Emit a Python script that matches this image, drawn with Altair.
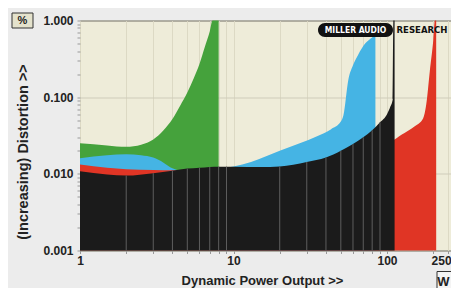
import altair as alt
import pandas as pd

# ---- data (power in W, distortion in %) ----
green_w = [1, 1.5, 2, 2.5, 3, 3.5, 4, 4.5, 5, 5.5, 6, 6.5, 7, 7.3, 8]
green_d = [0.025, 0.0235, 0.0225, 0.024, 0.028, 0.037, 0.052, 0.078, 0.115, 0.175, 0.27, 0.45, 0.72, 1.0, 1.0]

blue_w = [1, 1.5, 2, 2.5, 3, 3.5, 4, 4.5, 5, 7, 10, 13, 16, 20, 27, 35, 43, 50, 52, 56, 60, 65, 72, 80, 84]
blue_d = [0.016, 0.0175, 0.018, 0.0175, 0.0163, 0.014, 0.0118, 0.011, 0.0112, 0.0115, 0.0125, 0.0143, 0.0167, 0.02,
          0.025, 0.031, 0.038, 0.048, 0.058, 0.17, 0.26, 0.36, 0.5, 0.6, 0.65]

red_w = [1, 1.5, 2, 3, 4, 5, 10, 20, 50, 100, 112, 120, 130, 150, 172, 180, 190, 200, 205, 209]
red_d = [0.0132, 0.012, 0.0115, 0.0112, 0.0111, 0.0109, 0.011, 0.0112, 0.016, 0.025, 0.028, 0.031, 0.034, 0.041,
         0.053, 0.08, 0.22, 0.55, 1.0, 1.0]

black_w = [1, 1.5, 2, 3, 4, 5, 6, 7, 8, 9, 10, 15, 20, 30, 40, 50, 60, 70, 80, 90, 100, 105, 109, 110, 112]
black_d = [0.0108, 0.0098, 0.0095, 0.0102, 0.011, 0.0117, 0.012, 0.0123, 0.0124, 0.0124, 0.0124, 0.0123, 0.0125,
           0.0143, 0.0163, 0.02, 0.0245, 0.03, 0.037, 0.047, 0.06, 0.075, 0.095, 1.0, 1.0]

grid_w = [2, 3, 4, 5, 6, 7, 8, 9, 20, 30, 40, 50, 60, 70, 80, 90]

x_ticks = [1, 2, 3, 4, 5, 6, 7, 8, 9, 10, 20, 30, 40, 50, 60, 70, 80, 90, 100, 200, 250]
x_labels = [1, 10, 100, 250]
y_ticks = [round(k * d, 4) for d in (0.001, 0.01, 0.1) for k in range(1, 10)] + [1.0]
y_labels = [0.001, 0.01, 0.1, 1.0]

W, H = 371, 230
FONT = "Liberation Sans"

xs = alt.Scale(type="log", domain=[1, 261], nice=False)
ys = alt.Scale(type="log", domain=[0.001, 1], nice=False)

xaxis = alt.Axis(
    values=x_ticks,
    labelExpr="indexof(" + str(x_labels) + ", datum.value) >= 0 ? '' + datum.value : ''",
    labelOffset={"condition": {"test": "datum.value == 250", "value": -7}, "value": 0},
    titleX=182, titleY=30, titleBaseline="middle", titleFontSize=13,
    labelOverlap=False, labelBound=False, labelFlush=False, domain=False,
    tickSize=3, tickColor="#999999", gridColor="#dcd9c4", gridOpacity=1,
)
yaxis = alt.Axis(
    values=y_ticks,
    labelExpr="indexof(" + str(y_labels) + ", datum.value) >= 0 ? format(datum.value, '.3f') : ''",
    titleX=-57, titleY=131, titleAngle=270, titleFontSize=14.5,
    titleAlign="center", titleBaseline="middle",
    labelOverlap=False, labelPadding=4, domain=False,
    tickSize=3, tickColor="#999999", gridColor="#cfccba",
    gridOpacity={"condition": {"test": "indexof(" + str(y_labels) + ", datum.value) >= 0", "value": 1}, "value": 0},
)

XT = "Dynamic Power Output >>"
YT = "(Increasing) Distortion >>"


def area(w, d, color):
    df = pd.DataFrame({"w": w, "d": d})
    return alt.Chart(df).mark_area(color=color, interpolate="monotone", opacity=1).encode(
        x=alt.X("w:Q", scale=xs, axis=xaxis, title=XT),
        y=alt.Y("d:Q", scale=ys, axis=yaxis, title=YT),
        y2=alt.datum(0.001),
    )


green = area(green_w, green_d, "#45a23c")
blue = area(blue_w, blue_d, "#45b4e4")
red = area(red_w, red_d, "#e03525")
black = area(black_w, black_d, "#1b1b1b")

bmap = dict(zip(black_w, black_d))
rules_df = pd.DataFrame({"w": grid_w, "d": [bmap[g] for g in grid_w]})
rules = alt.Chart(rules_df).mark_rule(color="#5e5e5e", strokeWidth=1).encode(
    x=alt.X("w:Q", scale=xs, axis=xaxis, title=XT),
    y=alt.Y("d:Q", scale=ys, axis=yaxis, title=YT),
    y2=alt.datum(0.001),
)

one = pd.DataFrame({"a": [0]})
logo_pill = alt.Chart(one).mark_rect(color="#111111", cornerRadius=7).encode(
    x=alt.value(238), x2=alt.value(313), y=alt.value(2.5), y2=alt.value(16.5))
logo_t1 = alt.Chart(one).mark_text(text="MILLER AUDIO", color="white", font="DejaVu Sans Condensed",
                                   fontWeight="bold", fontSize=8.5).encode(x=alt.value(275.5), y=alt.value(9.5))
logo_t2 = alt.Chart(one).mark_text(text="RESEARCH", color="#111111", font="DejaVu Sans Condensed",
                                   fontWeight="bold", fontSize=9.5).encode(x=alt.value(342), y=alt.value(9.5))

pct_box = alt.Chart(one).mark_rect(fill="#e4e2cc", stroke="#333333", strokeWidth=1).encode(
    x=alt.value(-68), x2=alt.value(-47), y=alt.value(-7.5), y2=alt.value(7.5))
pct_t = alt.Chart(one).mark_text(text="%", font=FONT, fontWeight="bold", fontSize=11, color="#222222").encode(
    x=alt.value(-57.5), y=alt.value(0.5))
w_box = alt.Chart(one).mark_rect(fill="#f4f4f4", stroke="#333333", strokeWidth=1).encode(
    x=alt.value(357), x2=alt.value(373), y=alt.value(251), y2=alt.value(272))
w_t = alt.Chart(one).mark_text(text="W", font=FONT, fontWeight="bold", fontSize=13, color="#222222").encode(
    x=alt.value(363.5), y=alt.value(261.5))

chart = alt.layer(green, blue, red, black, rules, logo_pill, logo_t1, logo_t2, pct_box, pct_t, w_box, w_t).properties(
    width=W, height=H, autosize="none",
    padding={"left": 72, "top": 12.5, "right": 0, "bottom": 37.5},
    background="#ececec",
).configure_view(fill="#eeecd9", stroke="#333333", strokeWidth=1).configure_axis(
    labelFont=FONT, labelFontWeight="bold", labelFontSize=12, labelColor="#222222",
    titleFont=FONT, titleFontWeight="bold", titleColor="#222222",
)

chart.save("out.html", embed_options={"renderer": "svg", "actions": False})
